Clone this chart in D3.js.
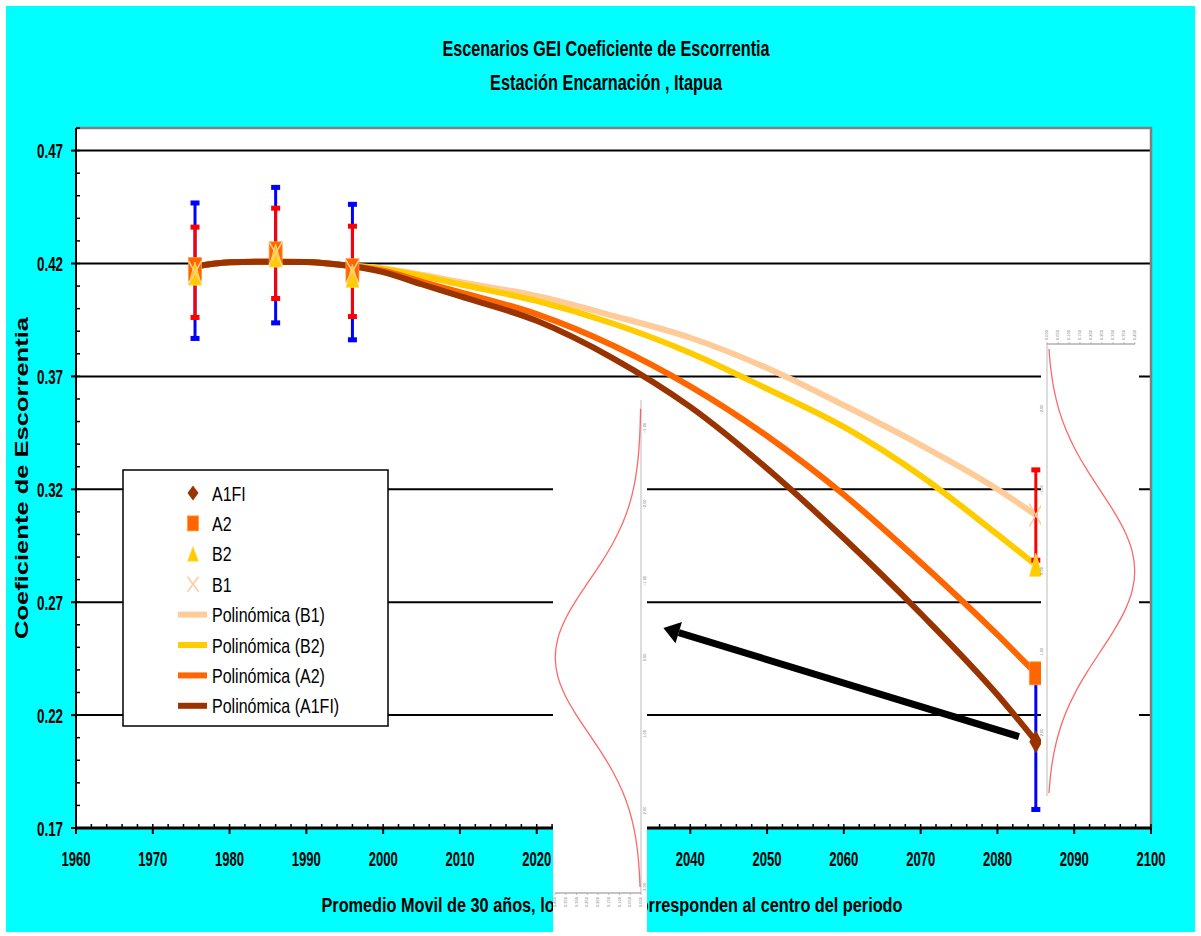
<!DOCTYPE html>
<html>
<head>
<meta charset="utf-8">
<script src="https://cdn.jsdelivr.net/npm/d3@7"></script>
<style>
  body { margin: 0; background: #fff; }
  svg { display: block; }
  text { font-family: "Liberation Sans", Arial, sans-serif; }
</style>
</head>
<body>
<svg id="chart" width="1201" height="936"></svg>
<script>
// trend lines (Polinómica)
const trendYears = [1975.5, 1980, 1985, 1990, 1995, 2000, 2005, 2010, 2020, 2030, 2040, 2050, 2060, 2070, 2080, 2085]
const trendB1   = [0.4186, 0.4205, 0.4208, 0.4207, 0.4192, 0.4178, 0.4150, 0.4118, 0.4056, 0.3968, 0.3871, 0.3737, 0.3572, 0.3396, 0.3200, 0.3086]
const trendB2   = [0.4186, 0.4205, 0.4208, 0.4207, 0.4192, 0.4176, 0.4145, 0.4108, 0.4034, 0.3933, 0.3804, 0.3645, 0.3476, 0.3260, 0.3000, 0.2865]
const trendA2   = [0.4186, 0.4205, 0.4208, 0.4207, 0.4192, 0.4168, 0.4120, 0.4073, 0.3976, 0.3836, 0.3656, 0.3436, 0.3176, 0.2876, 0.2556, 0.2385]
const trendA1FI = [0.4186, 0.4205, 0.4208, 0.4207, 0.4192, 0.4162, 0.4108, 0.4055, 0.3946, 0.3779, 0.3565, 0.3292, 0.2983, 0.2650, 0.2290, 0.2085]

// scenario points
const pointYears = [1975.5, 1986, 1996, 2085]
const pointsA1FI = [0.4168, 0.4237, 0.4162, 0.2082]
const pointsA2   = [0.4175, 0.4245, 0.4170, 0.2385]
const pointsB2   = [0.4155, 0.4235, 0.4145, 0.2865]
const pointsB1   = [0.4161, 0.4245, 0.4165, 0.3086]
const errA1FI = [0.030, 0.030, 0.030, 0.030]   // blue bars
const errB1   = [0.020, 0.020, 0.020, 0.020]   // red bars

const yTickValues = [0.17, 0.22, 0.27, 0.32, 0.37, 0.42, 0.47]
const yTickLabels = ['0.17', '0.22', '0.27', '0.32', '0.37', '0.42', '0.47']
const xTickValues = [1960, 1970, 1980, 1990, 2000, 2010, 2020, 2030, 2040, 2050, 2060, 2070, 2080, 2090, 2100]
const xTickLabels = ['1960', '1970', '1980', '1990', '2000', '2010', '2020', '2030', '2040', '2050', '2060', '2070', '2080', '2090', '2100']

const legendLabels = ['A1FI', 'A2', 'B2', 'B1', 'Polinómica (B1)', 'Polinómica (B2)', 'Polinómica (A2)', 'Polinómica (A1FI)']

// pasted normal curves (standard density)
const bellZ = [-3.5, -3.25, -3, -2.75, -2.5, -2.25, -2, -1.75, -1.5, -1.25, -1, -0.75, -0.5, -0.25, 0, 0.25, 0.5, 0.75, 1, 1.25, 1.5, 1.75, 2, 2.25, 2.5, 2.75, 3, 3.25, 3.5]
const bellDensity = [0.0009, 0.0020, 0.0044, 0.0091, 0.0175, 0.0317, 0.0540, 0.0863, 0.1295, 0.1826, 0.2420, 0.3011, 0.3521, 0.3867, 0.3989, 0.3867, 0.3521, 0.3011, 0.2420, 0.1826, 0.1295, 0.0863, 0.0540, 0.0317, 0.0175, 0.0091, 0.0044, 0.0020, 0.0009]

// arrow annotation, in chart units [year, value]
const arrowFrom = [2082.8, 0.2105]
const arrowTo = [2036.5, 0.2586]

const colors = { A1FI: '#993300', A2: '#FF6600', B2: '#FFCC00', B1: '#FFCC99' }

const svg = d3.select('#chart')
const plot = { left: 76, right: 1151, top: 128, bottom: 828 }

const x = d3.scaleLinear().domain([1960, 2100]).range([plot.left, plot.right])
const y = d3.scaleLinear().domain([0.17, 0.48]).range([plot.bottom, plot.top])

// tall but narrow text: glyph height of `size`, width given
function squeeze(sel, size, width) {
  sel.attr('font-size', size)
    .attr('textLength', width)
    .attr('lengthAdjust', 'spacingAndGlyphs')
}

// background
svg.append('rect').attr('width', 1201).attr('height', 936).attr('fill', '#fff')
svg.append('rect').attr('x', 6).attr('y', 6).attr('width', 1189).attr('height', 926).attr('fill', '#00FFFF')
svg.append('rect')
  .attr('x', plot.left).attr('y', plot.top)
  .attr('width', plot.right - plot.left).attr('height', plot.bottom - plot.top)
  .attr('fill', '#fff')

// titles
svg.append('text').attr('x', 606).attr('y', 56).attr('text-anchor', 'middle')
  .attr('font-weight', 'bold').call(squeeze, 22, 327)
  .text('Escenarios GEI Coeficiente de Escorrentia')
svg.append('text').attr('x', 606).attr('y', 90).attr('text-anchor', 'middle')
  .attr('font-weight', 'bold').call(squeeze, 22, 232)
  .text('Estación Encarnación , Itapua')

// grid
svg.append('g').selectAll('line')
  .data(yTickValues.filter(d => d > 0.17))
  .join('line')
  .attr('x1', plot.left).attr('x2', plot.right)
  .attr('y1', d => y(d)).attr('y2', d => y(d))
  .attr('stroke', '#000').attr('stroke-width', 2)

// plot border (grey top/right)
svg.append('path')
  .attr('d', `M${plot.left},${plot.top}H${plot.right}V${plot.bottom}`)
  .attr('fill', 'none').attr('stroke', '#808080').attr('stroke-width', 2.5)

// y axis
const yMinor = d3.range(17, 49).map(d => d / 100)
svg.append('g').selectAll('line').data(yMinor).join('line')
  .attr('x1', plot.left).attr('x2', plot.left + 4)
  .attr('y1', d => y(d)).attr('y2', d => y(d))
  .attr('stroke', '#000').attr('stroke-width', 1.5)
svg.append('g').selectAll('line').data(yTickValues).join('line')
  .attr('x1', plot.left - 5).attr('x2', plot.left)
  .attr('y1', d => y(d)).attr('y2', d => y(d))
  .attr('stroke', '#000').attr('stroke-width', 2)
svg.append('line')
  .attr('x1', plot.left).attr('x2', plot.left).attr('y1', plot.top).attr('y2', plot.bottom)
  .attr('stroke', '#000').attr('stroke-width', 2)
svg.append('g').selectAll('text').data(yTickValues).join('text')
  .attr('x', 63).attr('y', d => y(d) + 7.5)
  .attr('text-anchor', 'end').attr('font-weight', 'bold')
  .call(squeeze, 20, 26)
  .text((d, i) => yTickLabels[i])

svg.append('text')
  .attr('transform', `translate(28,${(plot.top + plot.bottom) / 2}) rotate(-90)`)
  .attr('text-anchor', 'middle').attr('font-weight', 'bold')
  .call(squeeze, 18, 322)
  .text('Coeficiente de Escorrentia')

// x axis
const xMinor = d3.range(1960, 2101, 2)
svg.append('g').selectAll('line').data(xMinor).join('line')
  .attr('x1', d => x(d)).attr('x2', d => x(d))
  .attr('y1', plot.bottom).attr('y2', plot.bottom - 4)
  .attr('stroke', '#000').attr('stroke-width', 1.5)
svg.append('g').selectAll('line').data(xTickValues).join('line')
  .attr('x1', d => x(d)).attr('x2', d => x(d))
  .attr('y1', plot.bottom).attr('y2', plot.bottom + 6)
  .attr('stroke', '#000').attr('stroke-width', 2)
svg.append('line')
  .attr('x1', plot.left).attr('x2', plot.right).attr('y1', plot.bottom).attr('y2', plot.bottom)
  .attr('stroke', '#000').attr('stroke-width', 3)
svg.append('g').selectAll('text').data(xTickValues).join('text')
  .attr('x', d => x(d)).attr('y', 866)
  .attr('text-anchor', 'middle').attr('font-weight', 'bold')
  .call(squeeze, 20, 29)
  .text((d, i) => xTickLabels[i])

svg.append('text').attr('x', 612).attr('y', 912).attr('text-anchor', 'middle')
  .attr('font-weight', 'bold').call(squeeze, 21, 581)
  .text('Promedio Movil de 30 años, los valores corresponden al centro del periodo')

// trend lines
const line = d3.line().x(d => x(d[0])).y(d => y(d[1])).curve(d3.curveMonotoneX)
const trends = [
  { key: 'B1', values: trendB1 },
  { key: 'B2', values: trendB2 },
  { key: 'A2', values: trendA2 },
  { key: 'A1FI', values: trendA1FI }
]
svg.append('g').selectAll('path').data(trends).join('path')
  .attr('d', d => line(trendYears.map((yr, i) => [yr, d.values[i]])))
  .attr('fill', 'none')
  .attr('stroke', d => colors[d.key])
  .attr('stroke-width', 6)
  .attr('stroke-linejoin', 'round')

// error bars
function errorBars(values, errs, color) {
  const g = svg.append('g')
  pointYears.forEach((yr, i) => {
    const cx = x(yr)
    const top = y(values[i] + errs[i])
    const bot = y(values[i] - errs[i])
    g.append('line').attr('x1', cx).attr('x2', cx).attr('y1', top).attr('y2', bot)
      .attr('stroke', color).attr('stroke-width', 3)
    ;[top, bot].forEach(cy => {
      g.append('rect').attr('x', cx - 4.5).attr('y', cy - 2.5).attr('width', 9).attr('height', 5).attr('fill', color)
    })
  })
}
errorBars(pointsA1FI, errA1FI, '#0000FF')
errorBars(pointsB1, errB1, '#FF0000')

// markers (stretched, as in the picture)
function marker(g, type, cx, cy, w, h) {
  if (type === 'diamond') {
    g.append('path').attr('d', `M${cx},${cy - h / 2}L${cx + w / 2},${cy}L${cx},${cy + h / 2}L${cx - w / 2},${cy}Z`)
      .attr('fill', colors.A1FI)
  } else if (type === 'square') {
    g.append('rect').attr('x', cx - w / 2).attr('y', cy - h / 2).attr('width', w).attr('height', h)
      .attr('fill', colors.A2).attr('stroke', '#ff9933').attr('stroke-width', 0.8)
  } else if (type === 'triangle') {
    g.append('path').attr('d', `M${cx},${cy - h / 2}L${cx + w / 2},${cy + h / 2}L${cx - w / 2},${cy + h / 2}Z`)
      .attr('fill', colors.B2).attr('stroke', '#ffe066').attr('stroke-width', 0.8)
  } else {
    g.append('path').attr('d', `M${cx - w / 2},${cy - h / 2}L${cx + w / 2},${cy + h / 2}M${cx + w / 2},${cy - h / 2}L${cx - w / 2},${cy + h / 2}`)
      .attr('stroke', colors.B1).attr('stroke-width', 1.5).attr('fill', 'none')
  }
}
const markerSeries = [
  { type: 'diamond', values: pointsA1FI },
  { type: 'square', values: pointsA2 },
  { type: 'triangle', values: pointsB2 },
  { type: 'x', values: pointsB1 }
]
const mg = svg.append('g')
markerSeries.forEach(s => {
  pointYears.forEach((yr, i) => marker(mg, s.type, x(yr), y(s.values[i]), 13, 23))
})

// legend
const lg = svg.append('g')
lg.append('rect').attr('x', 123).attr('y', 470).attr('width', 265).attr('height', 256)
  .attr('fill', '#fff').attr('stroke', '#000').attr('stroke-width', 1.5)
const rowY = i => 493 + i * 30.4
;['diamond', 'square', 'triangle', 'x'].forEach((t, i) => marker(lg, t, 193, rowY(i), 11, 15))
;['B1', 'B2', 'A2', 'A1FI'].forEach((k, i) => {
  lg.append('line').attr('x1', 178).attr('x2', 207).attr('y1', rowY(i + 4)).attr('y2', rowY(i + 4))
    .attr('stroke', colors[k]).attr('stroke-width', 6)
})
const legText = lg.selectAll('text').data(legendLabels).join('text')
  .attr('x', 212).attr('y', (d, i) => rowY(i) + 7.5)
  .attr('font-size', 16)
  .text(d => d)
// keep the 16px width, stretch to 21px height
legText.each(function () {
  const w = this.getComputedTextLength()
  d3.select(this).call(squeeze, 21, w)
})

// pasted normal-curve pictures
function inset(cfg) {
  const g = svg.append('g')
  g.append('rect').attr('x', cfg.box[0]).attr('y', cfg.box[1]).attr('width', cfg.box[2]).attr('height', cfg.box[3]).attr('fill', '#fff')
  const zs = d3.scaleLinear().domain(cfg.zDomain).range(cfg.zRange)
  const ds = d3.scaleLinear().domain([0, 0.4]).range(cfg.dRange)
  const pts = bellZ.map((z, i) => [z, bellDensity[i]]).filter(p => p[0] >= cfg.zDomain[0] && p[0] <= cfg.zDomain[1])
  // axes
  g.append('line').attr('x1', ds(0)).attr('x2', ds(0)).attr('y1', cfg.vAxis[0]).attr('y2', cfg.vAxis[1])
    .attr('stroke', '#bbb').attr('stroke-width', 1)
  g.append('line').attr('x1', ds(0)).attr('x2', ds(0.4)).attr('y1', cfg.hAxisY).attr('y2', cfg.hAxisY)
    .attr('stroke', '#888').attr('stroke-width', 1)
  const dTicks = d3.range(0, 0.4001, 0.05)
  g.selectAll('.dt').data(dTicks).join('line')
    .attr('x1', d => ds(d)).attr('x2', d => ds(d))
    .attr('y1', cfg.hAxisY).attr('y2', cfg.hAxisY + cfg.tickDir * 2)
    .attr('stroke', '#999').attr('stroke-width', 0.6)
  g.selectAll('.dl').data(dTicks).join('text')
    .attr('transform', d => `translate(${ds(d) + 1},${cfg.hAxisY + cfg.tickDir * 4}) rotate(-90)`)
    .attr('text-anchor', cfg.tickDir > 0 ? 'end' : 'start')
    .attr('font-size', 4).attr('fill', '#777')
    .text(d => d3.format('.3f')(d))
  g.selectAll('.zl').data(zs.ticks(7)).join('text')
    .attr('transform', d => `translate(${ds(0) + cfg.zLabelDx},${zs(d)}) rotate(-90)`)
    .attr('text-anchor', 'middle')
    .attr('font-size', 4).attr('fill', '#777')
    .text(d => d3.format('.2f')(d))
  g.append('path')
    .attr('d', d3.line().x(p => ds(p[1])).y(p => zs(p[0])).curve(d3.curveCatmullRom)(pts))
    .attr('fill', 'none').attr('stroke', '#ff4d4d').attr('stroke-width', 1.3).attr('stroke-opacity', 0.85)
}
inset({ box: [553, 392, 94, 540], zDomain: [-3.3, 3.0], zRange: [405, 887], dRange: [641, 555],
  vAxis: [400, 893], hAxisY: 893, tickDir: 1, zLabelDx: 5 })
inset({ box: [1041, 318, 98, 482], zDomain: [-2.8, 2.75], zRange: [345, 793], dRange: [1047, 1135],
  vAxis: [344, 796], hAxisY: 344, tickDir: -1, zLabelDx: -4 })

// arrow
const a0 = [x(arrowFrom[0]), y(arrowFrom[1])]
const a1 = [x(arrowTo[0]), y(arrowTo[1])]
const len = Math.hypot(a1[0] - a0[0], a1[1] - a0[1])
const u = [(a1[0] - a0[0]) / len, (a1[1] - a0[1]) / len]
const base = [a1[0] - u[0] * 16, a1[1] - u[1] * 16]
svg.append('line').attr('x1', a0[0]).attr('y1', a0[1]).attr('x2', base[0]).attr('y2', base[1])
  .attr('stroke', '#000').attr('stroke-width', 7)
svg.append('path')
  .attr('d', `M${a1[0]},${a1[1]}L${base[0] - u[1] * 11},${base[1] + u[0] * 11}L${base[0] + u[1] * 11},${base[1] - u[0] * 11}Z`)
  .attr('fill', '#000')
</script>
</body>
</html>
